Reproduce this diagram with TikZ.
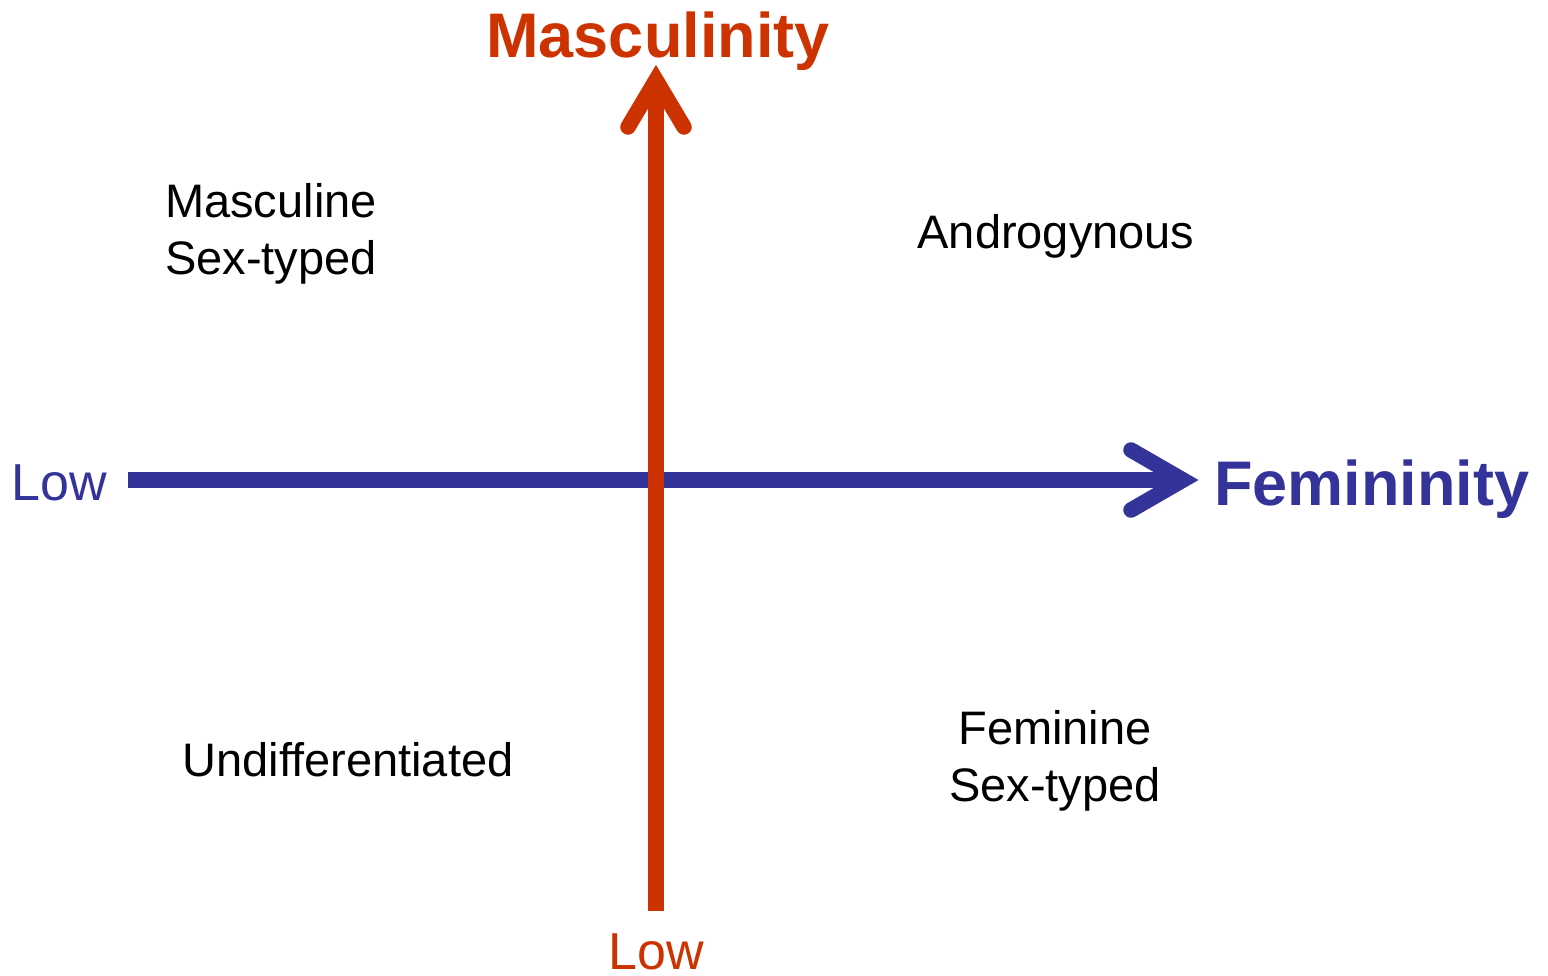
\documentclass[tikz,border=0pt]{standalone}
\usepackage{fontspec}
\setmainfont{Liberation Sans}
\definecolor{mred}{HTML}{CC3300}
\definecolor{fblue}{HTML}{333399}
\tikzset{
  axisline/.style={line width=15.5pt, line cap=butt},
  axishead/.style={line width=15.5pt, line cap=round, line join=miter},
  quad/.style={inner sep=0pt, anchor=base, align=center, font=\fontsize{47}{57}\selectfont},
  lowlbl/.style={inner sep=0pt, anchor=base, font=\fontsize{52}{60}\selectfont},
  title/.style={inner sep=0pt, anchor=base, font=\fontsize{63}{72}\selectfont\bfseries},
}
\begin{document}
\begin{tikzpicture}[x=1pt,y=-1pt]
\useasboundingbox (0,0) rectangle (1548,975);
% horizontal axis (femininity)
\coordinate (hs) at (128,480);
\coordinate (ht) at (1183,480);
\coordinate (ha1) at (1131,450);
\coordinate (ha2) at (1131,510);
\draw[axisline, fblue] (hs) -- (ht);
\draw[axishead, fblue] (ha1) -- (ht) -- (ha2);
% vertical axis (masculinity)
\coordinate (vs) at (656,911);
\coordinate (vt) at (656,80);
\coordinate (va1) at (628,127);
\coordinate (va2) at (684,127);
\draw[axisline, mred] (vs) -- (vt);
\draw[axishead, mred] (va1) -- (vt) -- (va2);
% labels
\node[title, text=mred] (masc) at (658,57) {Masculinity};
\node[title, text=fblue, anchor=base west] (fem) at (1214,505) {Femininity};
\node[lowlbl, text=fblue, anchor=base west] (lowx) at (11,500) {Low};
\node[lowlbl, text=mred] (lowy) at (656,969) {Low};
\node[quad] (ms) at (271,274) {Masculine\\Sex-typed};
\node[quad] (andro) at (1056,248) {Androgynous};
\node[quad] (undiff) at (348,776) {Undifferentiated};
\node[quad] (fs) at (1055,801) {Feminine\\Sex-typed};
\end{tikzpicture}
\end{document}
